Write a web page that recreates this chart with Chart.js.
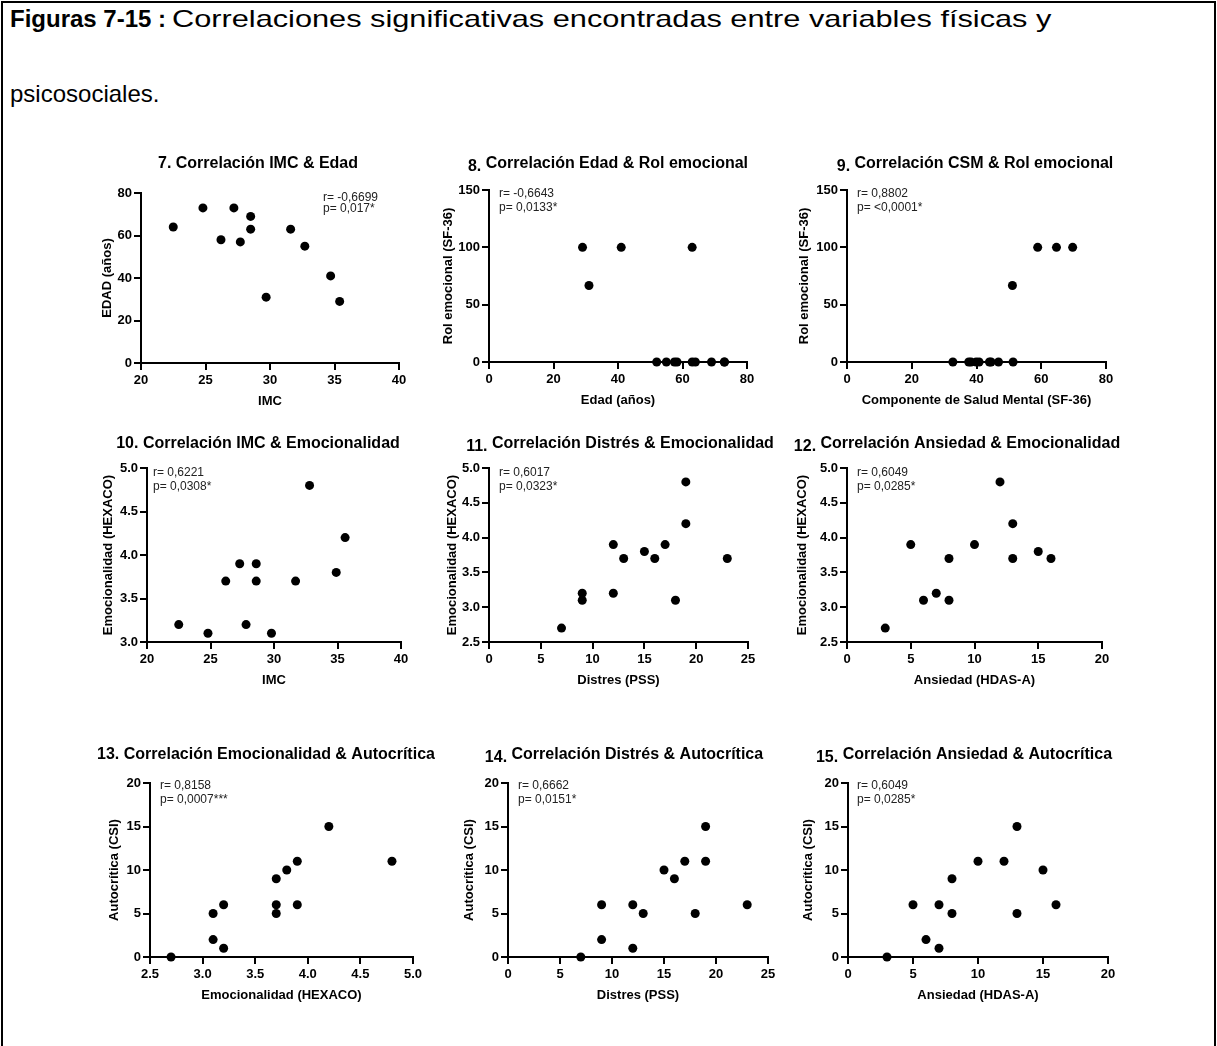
<!DOCTYPE html>
<html>
<head>
<meta charset="utf-8">
<script src="https://cdn.jsdelivr.net/npm/chart.js@4.4.1/dist/chart.umd.min.js"></script>
<style>
body { margin:0; background:#fff; font-family:"Liberation Sans", Arial, sans-serif; }
#frame { position:absolute; left:1px; top:1px; width:1211px; height:1100px; border:2px solid #000; border-bottom:none; }
.cap { position:absolute; left:10px; font-size:24px; line-height:27px; color:#000; white-space:nowrap; }
.wide { display:inline-block; transform:scaleX(1.28); transform-origin:left center; margin-left:6px; }
canvas { position:absolute; }
</style>
</head>
<body>
<div id="frame"></div>
<div class="cap" style="top:5px"><b>Figuras 7-15 :</b><span class="wide">Correlaciones significativas encontradas entre variables físicas y</span></div>
<div class="cap" style="top:80px">psicosociales.</div>
<div id="charts"></div>
<script>
// --- data ---
const imc7  = [22.5, 24.8, 26.2, 27.2, 27.7, 28.5, 28.5, 29.7, 31.6, 32.7, 34.7, 35.4];
const edad7 = [64, 73, 58, 73, 57, 69, 63, 31, 63, 55, 41, 29];

const edad8 = [29, 31, 41, 63, 52, 55, 57.5, 58.3, 63, 64, 69, 73, 73];
const rol8  = [100, 66.7, 100, 100, 0, 0, 0, 0, 0, 0, 0, 0, 0];

const csm9 = [58.9, 64.7, 69.7, 51.1, 32.7, 37.6, 38.3, 39.9, 40.8, 44.0, 44.5, 46.8, 51.3];
const rol9 = [100, 100, 100, 66.7, 0, 0, 0, 0, 0, 0, 0, 0, 0];

const imc10 = [22.5, 24.8, 26.2, 27.3, 27.8, 28.6, 28.6, 29.8, 31.7, 32.8, 34.9, 35.6];
const emo10 = [3.2, 3.1, 3.7, 3.9, 3.2, 3.9, 3.7, 3.1, 3.7, 4.8, 3.8, 4.2];

const pss11 = [7, 9, 9, 12, 12, 13, 15, 16, 17, 18, 19, 19, 23];
const emo11 = [2.7, 3.2, 3.1, 3.9, 3.2, 3.7, 3.8, 3.7, 3.9, 3.1, 4.2, 4.8, 3.7];

const hdas12 = [3, 5, 6, 7, 8, 8, 10, 12, 13, 13, 15, 16];
const emo12  = [2.7, 3.9, 3.1, 3.2, 3.7, 3.1, 3.9, 4.8, 4.2, 3.7, 3.8, 3.7];

const emo13 = [2.7, 3.1, 3.1, 3.2, 3.2, 3.7, 3.7, 3.7, 3.8, 3.9, 3.9, 4.2, 4.8];
const csi13 = [0, 5, 2, 6, 1, 9, 6, 5, 10, 11, 6, 15, 11];

const pss14 = [7, 9, 9, 12, 12, 13, 15, 16, 17, 18, 19, 19, 23];
const csi14 = [0, 6, 2, 6, 1, 5, 10, 9, 11, 5, 15, 11, 6];

const hdas15 = [3, 5, 6, 7, 7, 8, 8, 10, 12, 13, 13, 15, 16];
const csi15  = [0, 6, 2, 6, 1, 9, 5, 11, 11, 15, 5, 10, 6];

const xs = [imc7, edad8, csm9, imc10, pss11, hdas12, emo13, pss14, hdas15];
const ys = [edad7, rol8, rol9, emo10, emo11, emo12, csi13, csi14, csi15];

const nums = ['7.', '8.', '9.', '10.', '11.', '12.', '13.', '14.', '15.'];
const titles = ['Correlación IMC & Edad', 'Correlación Edad & Rol emocional', 'Correlación CSM & Rol emocional',
  'Correlación IMC & Emocionalidad', 'Correlación Distrés & Emocionalidad', 'Correlación Ansiedad & Emocionalidad',
  'Correlación Emocionalidad & Autocrítica', 'Correlación Distrés & Autocrítica', 'Correlación Ansiedad & Autocrítica'];
const xTitles = ['IMC', 'Edad (años)', 'Componente de Salud Mental (SF-36)', 'IMC', 'Distres (PSS)', 'Ansiedad (HDAS-A)',
  'Emocionalidad (HEXACO)', 'Distres (PSS)', 'Ansiedad (HDAS-A)'];
const yTitles = ['EDAD (años)', 'Rol emocional (SF-36)', 'Rol emocional (SF-36)', 'Emocionalidad (HEXACO)',
  'Emocionalidad (HEXACO)', 'Emocionalidad (HEXACO)', 'Autocrítica (CSI)', 'Autocrítica (CSI)', 'Autocrítica (CSI)'];
const rText = ['r= -0,6699', 'r= -0,6643', 'r= 0,8802', 'r= 0,6221', 'r= 0,6017', 'r= 0,6049', 'r= 0,8158', 'r= 0,6662', 'r= 0,6049'];
const pText = ['p= 0,017*', 'p= 0,0133*', 'p= <0,0001*', 'p= 0,0308*', 'p= 0,0323*', 'p= 0,0285*', 'p= 0,0007***', 'p= 0,0151*', 'p= 0,0285*'];

// axis ranges [min, max, step, decimals]
const xRange = [[20, 40, 5, 0], [0, 80, 20, 0], [0, 80, 20, 0], [20, 40, 5, 0], [0, 25, 5, 0], [0, 20, 5, 0], [2.5, 5, 0.5, 1], [0, 25, 5, 0], [0, 20, 5, 0]];
const yRange = [[0, 80, 20, 0], [0, 150, 50, 0], [0, 150, 50, 0], [3, 5, 0.5, 1], [2.5, 5, 0.5, 1], [2.5, 5, 0.5, 1], [0, 20, 5, 0], [0, 20, 5, 0], [0, 20, 5, 0]];

// page layout (plot rect in px, title centre, stats position)
const layout = [
  {l:141, r:399, t:193, b:363, tx:258, ty:164, drop:0, sx:323, sy:198, gap:11, yo:34},
  {l:489, r:747, t:190, b:362, tx:608, ty:164, drop:3, sx:499, sy:194, gap:14, yo:41},
  {l:847, r:1106, t:190, b:362, tx:975, ty:164, drop:3, sx:857, sy:194, gap:14, yo:43},
  {l:147, r:401, t:468, b:642, tx:258, ty:444, drop:0, sx:153, sy:473, gap:14, yo:39},
  {l:489, r:748, t:468, b:642, tx:620, ty:444, drop:3, sx:499, sy:473, gap:14, yo:37},
  {l:847, r:1102, t:468, b:642, tx:957, ty:444, drop:3, sx:857, sy:473, gap:14, yo:45},
  {l:150, r:413, t:783, b:957, tx:266, ty:755, drop:0, sx:160, sy:786, gap:14, yo:36},
  {l:508, r:768, t:783, b:957, tx:624, ty:755, drop:3, sx:518, sy:786, gap:14, yo:39},
  {l:848, r:1108, t:783, b:957, tx:964, ty:755, drop:3, sx:857, sy:786, gap:14, yo:40}
];

const FONT = '"Liberation Sans", Arial, sans-serif';
const PAD_L = 80, PAD_R = 30, PAD_T = 45, PAD_B = 50, XH = 46;

// panel title + r/p text
const annot = {
  id: 'annot',
  afterDraw(chart, args, o) {
    const ctx = chart.ctx;
    ctx.save();
    ctx.fillStyle = '#000';
    ctx.textBaseline = 'middle';
    ctx.textAlign = 'left';
    ctx.font = 'bold 16px ' + FONT;
    const nw = ctx.measureText(o.num + ' ').width;
    const tw = ctx.measureText(o.text).width;
    const x0 = o.tx - (nw + tw) / 2;
    ctx.fillText(o.num, x0, o.ty + o.drop);
    ctx.fillText(o.text, x0 + nw, o.ty);
    ctx.font = '12px ' + FONT;
    ctx.fillStyle = '#222';
    ctx.fillText(o.r, o.sx, o.sy);
    ctx.fillText(o.p, o.sx, o.sy + o.gap);
    ctx.restore();
  }
};

function scaleOpts(rng, title, fixFit, tickPad) {
  return {
    type: 'linear', min: rng[0], max: rng[1],
    afterFit: fixFit,
    ticks: { stepSize: rng[2], autoSkip: false, maxRotation: 0, padding: tickPad, color: '#000',
      font: { family: FONT, size: 13, weight: 'bold' }, callback: v => Number(v).toFixed(rng[3]) },
    grid: { drawOnChartArea: false, drawTicks: true, tickLength: 7, color: '#000', lineWidth: 2, tickColor: '#000', tickWidth: 2 },
    border: { color: '#000', width: 2 },
    title: { display: true, text: title, color: '#000', padding: 0, font: { family: FONT, size: 13, weight: 'bold' } }
  };
}

const holder = document.getElementById('charts');
layout.forEach((L, i) => {
  const w = L.r - L.l + PAD_L + PAD_R;
  const h = L.b - L.t + PAD_T + PAD_B;
  const left = L.l - PAD_L, top = L.t - PAD_T;
  const cv = document.createElement('canvas');
  cv.width = w; cv.height = h;
  cv.style.left = left + 'px'; cv.style.top = top + 'px';
  holder.appendChild(cv);
  const yw = L.yo + 7;
  new Chart(cv.getContext('2d'), {
    type: 'scatter',
    data: { datasets: [{ data: xs[i].map((x, k) => ({ x, y: ys[i][k] })), backgroundColor: '#000', borderWidth: 0, pointRadius: 4.5, clip: false }] },
    options: {
      responsive: false, animation: false, devicePixelRatio: 1,
      layout: { padding: { left: PAD_L - yw, right: PAD_R, top: PAD_T, bottom: PAD_B - XH } },
      plugins: {
        legend: { display: false }, tooltip: { enabled: false },
        annot: { num: nums[i], text: titles[i], tx: L.tx - left, ty: L.ty - top, drop: L.drop,
          r: rText[i], p: pText[i], sx: L.sx - left, sy: L.sy - top, gap: L.gap }
      },
      scales: {
        x: scaleOpts(xRange[i], xTitles[i], s => { s.height = XH; }, 3),
        y: scaleOpts(yRange[i], yTitles[i], s => { s.width = yw; }, 2)
      }
    },
    plugins: [annot]
  });
});
</script>
</body>
</html>
